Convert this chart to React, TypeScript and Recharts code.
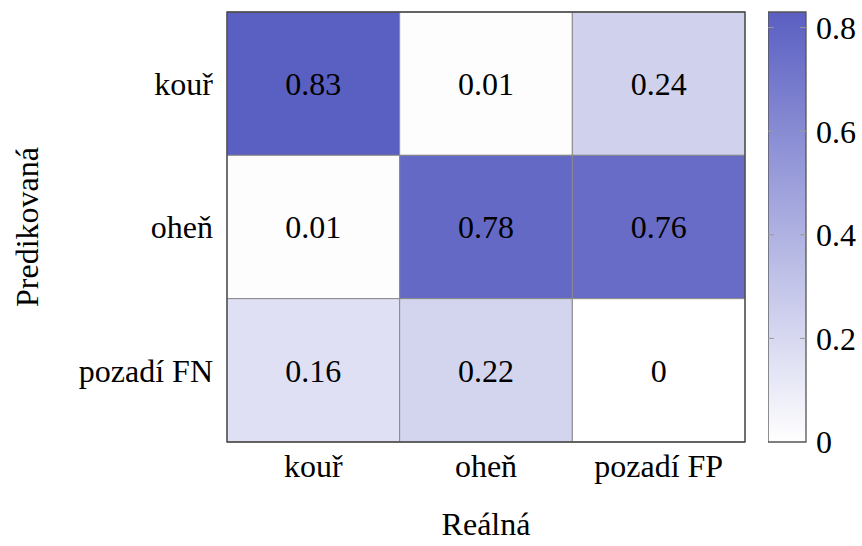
import { ComposedChart, Scatter, XAxis, YAxis, ReferenceArea, ReferenceLine } from 'recharts';

const realLabels = ['kouř', 'oheň', 'pozadí FP'];
const predictedLabels = ['kouř', 'oheň', 'pozadí FN'];
// rows = predicted class, columns = real class
const rowKour = [0.83, 0.01, 0.24];
const rowOhen = [0.01, 0.78, 0.76];
const rowPozadi = [0.16, 0.22, 0];
const matrix = [rowKour, rowOhen, rowPozadi];
const colorTicks = [0, 0.2, 0.4, 0.6, 0.8];
const colorMax = 0.83;

const FONT = 'Liberation Serif, DejaVu Serif, serif';
const FS = 32;
const HIGH = [90, 95, 194];

function cellColor(v: number) {
  const t = Math.max(0, Math.min(1, v / colorMax));
  const c = HIGH.map((h) => Math.round(255 + (h - 255) * t));
  return `rgb(${c[0]},${c[1]},${c[2]})`;
}

const cells = matrix.flatMap((row, r) =>
  row.map((value, c) => ({ x: c + 0.5, y: r + 0.5, r, c, value }))
);
const barPoints = colorTicks.map((v) => ({ x: 0.5, v }));

const ValueText = (props: any) => {
  const { cx, cy, payload } = props;
  return (
    <text x={cx} y={cy} dy="0.35em" textAnchor="middle" style={{ fontFamily: FONT }} fontSize={FS} fill="#000">
      {String(payload.value)}
    </text>
  );
};

const Nothing = () => <g />;

const tickStyle = { fontSize: FS, fill: '#000', style: { fontFamily: FONT } };

export default function App() {
  return (
    <div style={{ position: 'absolute', left: 0, top: 0, width: 862, height: 546, background: '#fff', fontFamily: FONT }}>
      <div style={{ position: 'absolute', left: 0, top: 0 }}>
        <ComposedChart width={862} height={546} margin={{ top: 12, right: 117, bottom: 0, left: 0 }}>
          <XAxis
            type="number"
            dataKey="x"
            domain={[0, 3]}
            ticks={[0.5, 1.5, 2.5]}
            tickFormatter={(v: number) => realLabels[Math.floor(v)]}
            axisLine={false}
            tickLine={false}
            tickSize={0}
            tickMargin={12}
            height={104}
            tick={tickStyle}
            label={{
              content: (p: any) => {
                const vb = p.viewBox;
                return (
                  <text x={vb.x + vb.width / 2} y={vb.y + 93} textAnchor="middle" style={{ fontFamily: FONT }} fontSize={FS} fill="#000">
                    Reálná
                  </text>
                );
              },
            }}
          />
          <YAxis
            type="number"
            dataKey="y"
            domain={[0, 3]}
            reversed
            ticks={[0.5, 1.5, 2.5]}
            tickFormatter={(v: number) => predictedLabels[Math.floor(v)]}
            axisLine={false}
            tickLine={false}
            tickSize={0}
            tickMargin={14}
            width={227}
            tick={tickStyle}
            label={{
              content: (p: any) => {
                const vb = p.viewBox;
                const cx = vb.x + 38;
                const cy = vb.y + vb.height / 2;
                return (
                  <text x={cx} y={cy} textAnchor="middle" transform={`rotate(-90, ${cx}, ${cy})`} style={{ fontFamily: FONT }} fontSize={FS} fill="#000">
                    Predikovaná
                  </text>
                );
              },
            }}
          />
          {cells.map((d) => (
            <ReferenceArea
              key={`${d.r}-${d.c}`}
              x1={d.c}
              x2={d.c + 1}
              y1={d.r}
              y2={d.r + 1}
              fill={cellColor(d.value)}
              fillOpacity={1}
              stroke="#8a8a8a"
              strokeWidth={1}
            />
          ))}
          <ReferenceArea x1={0} x2={3} y1={0} y2={3} fill="none" stroke="#444" strokeWidth={1.3} />
          <Scatter data={cells} shape={ValueText} isAnimationActive={false} />
        </ComposedChart>
      </div>
      <div style={{ position: 'absolute', left: 768, top: 0 }}>
        <ComposedChart width={94} height={546} margin={{ top: 12, right: 0, bottom: 104, left: 0 }}>
          <defs>
            <linearGradient id="cbar" x1="0" y1="1" x2="0" y2="0">
              <stop offset="0%" stopColor={cellColor(0)} />
              <stop offset="100%" stopColor={cellColor(colorMax)} />
            </linearGradient>
          </defs>
          <XAxis type="number" dataKey="x" domain={[0, 1]} hide />
          <YAxis
            type="number"
            dataKey="v"
            orientation="right"
            domain={[0, colorMax]}
            ticks={colorTicks}
            tickFormatter={(v: number) => String(Math.round(v * 10) / 10)}
            axisLine={false}
            tickLine={false}
            tickSize={0}
            tickMargin={10}
            width={56}
            tick={tickStyle}
          />
          <ReferenceArea x1={0} x2={1} y1={0} y2={colorMax} fill="url(#cbar)" fillOpacity={1} stroke="#555" strokeWidth={1.3} />
          {colorTicks.slice(1).map((t) => (
            <ReferenceLine key={t} y={t} stroke="#999" strokeWidth={1} strokeDasharray="6 26 6" />
          ))}
          <Scatter data={barPoints} dataKey="v" shape={Nothing} isAnimationActive={false} />
        </ComposedChart>
      </div>
    </div>
  );
}
